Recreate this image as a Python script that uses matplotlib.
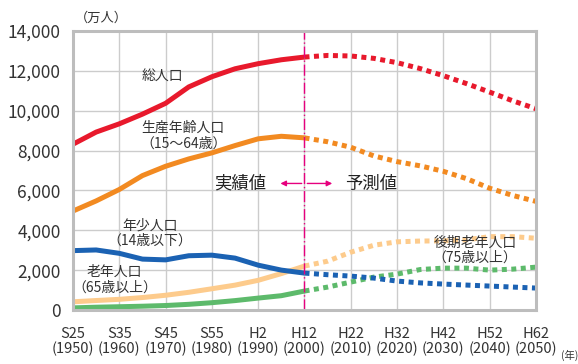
import numpy as np
import matplotlib.pyplot as plt

plt.rcParams['font.family'] = ['Noto Sans CJK JP', 'DejaVu Sans']

# 実績 (1950-2000) と 予測 (2000-2050), 単位: 万人
years_act = [1950, 1955, 1960, 1965, 1970, 1975, 1980, 1985, 1990, 1995, 2000]
years_est = [2000, 2005, 2010, 2015, 2020, 2025, 2030, 2035, 2040, 2045, 2050]

total_act = [8320, 8928, 9342, 9828, 10372, 11194, 11706, 12105, 12361, 12557, 12693]
total_est = [12693, 12774, 12747, 12627, 12411, 12114, 11758, 11360, 10934, 10496, 10100]

work_act = [4966, 5473, 6047, 6744, 7212, 7581, 7884, 8251, 8590, 8717, 8638]
work_est = [8638, 8442, 8166, 7730, 7445, 7233, 6958, 6592, 6109, 5747, 5450]

young_act = [2979, 3012, 2843, 2553, 2515, 2722, 2751, 2603, 2249, 2001, 1851]
young_est = [1851, 1770, 1700, 1600, 1450, 1360, 1300, 1250, 1200, 1150, 1100]

old_act = [411, 475, 535, 624, 739, 887, 1065, 1247, 1489, 1826, 2204]
old_est = [2204, 2450, 2900, 3250, 3420, 3460, 3470, 3520, 3680, 3680, 3600]

old75_act = [106, 139, 163, 189, 224, 284, 366, 471, 597, 717, 950]
old75_est = [950, 1150, 1400, 1650, 1800, 2030, 2100, 2100, 2000, 2050, 2150]

xticks = [1950, 1960, 1970, 1980, 1990, 2000, 2010, 2020, 2030, 2040, 2050]
xlabels = ['S25\n(1950)', 'S35\n(1960)', 'S45\n(1970)', 'S55\n(1980)', 'H2\n(1990)',
           'H12\n(2000)', 'H22\n(2010)', 'H32\n(2020)', 'H42\n(2030)', 'H52\n(2040)',
           'H62\n(2050)']

colors = {'total': '#e8192c', 'work': '#f28a21', 'young': '#1b62b3',
          'old': '#fdcb8c', 'old75': '#5dba6b'}

fig = plt.figure(figsize=(5.78, 3.64), dpi=100)
ax = fig.add_axes([0.1263, 0.1484, 0.801, 0.7664])

lw = 3.6
series = [
    (old75_act, old75_est, colors['old75']),
    (old_act, old_est, colors['old']),
    (young_act, young_est, colors['young']),
    (work_act, work_est, colors['work']),
    (total_act, total_est, colors['total']),
]
for act, est, c in series:
    ax.plot(years_act, act, color=c, lw=lw, solid_capstyle='butt', solid_joinstyle='round')
    ax.plot(years_est, est, color=c, lw=lw, linestyle=(0, (1.0, 0.9)), dash_capstyle='butt')

ax.axvline(2000, color='#e6007e', lw=1.0, linestyle=(0, (8, 2, 1, 2)))

ax.set_xlim(1950, 2050)
ax.set_ylim(0, 14000)
ax.set_xticks(xticks)
ax.set_xticklabels(xlabels, fontsize=10.5, linespacing=1.1)
ax.set_yticks(np.arange(0, 14001, 2000))
ax.set_yticklabels(['0', '2,000', '4,000', '6,000', '8,000', '10,000', '12,000', '14,000'],
                   fontsize=12.5)
ax.tick_params(length=0, pad=9, colors='#333333')
ax.tick_params(axis='x', pad=12)
ax.grid(True, color='#cccccc', lw=1)
ax.set_axisbelow(True)
for s in ax.spines.values():
    s.set_color('#bdbdbd')
    s.set_linewidth(2.2)

txt = dict(fontsize=10, color='#333333', ha='center', va='center', linespacing=1.15)
ax.text(1969.4, 11700, '総人口', **txt)
ax.text(1973.8, 8750, '生産年齢人口\n（15～64歳）', **txt)
ax.text(1966.6, 3850, '年少人口\n（14歳以下）', **txt)
ax.text(1959, 1500, '老年人口\n（65歳以上）', **txt)
ax.text(2036.8, 3000, '後期老年人口\n（75歳以上）', **txt)

ax.text(1986, 6350, '実績値', fontsize=12.5, color='#222222', ha='center', va='center')
ax.text(2014.3, 6350, '予測値', fontsize=12.5, color='#222222', ha='center', va='center')
ax.annotate('', xy=(1994.2, 6350), xytext=(2000, 6350),
            arrowprops=dict(arrowstyle='-|>', color='#e6007e', lw=1.0, mutation_scale=8))
ax.annotate('', xy=(2006.6, 6350), xytext=(2000, 6350),
            arrowprops=dict(arrowstyle='-|>', color='#e6007e', lw=1.0, mutation_scale=8))

fig.text(0.13, 0.95, '（万人）', fontsize=9.5, color='#333333', ha='left', va='center')
fig.text(0.985, 0.025, '(年)', fontsize=7.5, color='#333333', ha='center', va='center')

fig.savefig('out.png', dpi=100)
